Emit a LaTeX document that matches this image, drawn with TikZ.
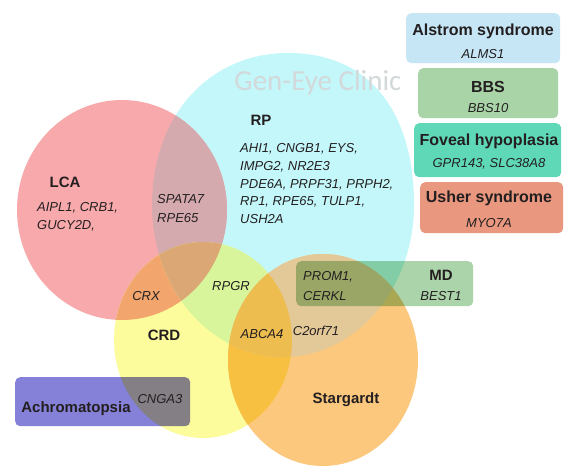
\documentclass[tikz,border=0pt]{standalone}
\usepackage{fontspec}
\setmainfont{Liberation Sans}
\newfontfamily\wmfont{Carlito}

% set colours
\definecolor{pinkC}{HTML}{F8A9AB}
\definecolor{cyanC}{HTML}{C3F7FA}
\definecolor{yellowC}{HTML}{FCFC9C}
\definecolor{orangeC}{HTML}{FCC87E}
% overlap colours
\definecolor{pcC}{HTML}{D5AAAF}
\definecolor{pyC}{HTML}{F2A56C}
\definecolor{pcyC}{HTML}{DAA775}
\definecolor{cyC}{HTML}{D8F59C}
\definecolor{oyC}{HTML}{F7C041}
\definecolor{ocC}{HTML}{E3C898}
\definecolor{ocyC}{HTML}{EDBD50}
% boxes
\definecolor{alsC}{HTML}{C6E6F6}
\definecolor{bbsC}{HTML}{A9D4A8}
\definecolor{fovC}{HTML}{5FD8B8}
\definecolor{ushC}{HTML}{E9977F}
\definecolor{mdC}{HTML}{ACD4AA}
\definecolor{achC}{HTML}{8581D8}
\definecolor{txt}{HTML}{231F20}
\definecolor{wmC}{HTML}{D3D8DA}

% outlines of the four disease sets
\def\LCA{(122,210) ellipse (105pt and 110pt)}
\def\RPset{(152,205) .. controls (152,289) and (210.6,357) .. (283,357)
  .. controls (355.4,357) and (414,289) .. (414,205)
  .. controls (414,115) and (372,53) .. (288,53)
  .. controls (210,53) and (152,115) .. (152,205) -- cycle}
\def\CRD{(203,340) ellipse (89pt and 98pt)}
\def\STG{(323,360) ellipse (95pt and 106pt)}

\begin{document}
\begin{tikzpicture}[x=1pt,y=-1pt,
  lbl/.style={font=\bfseries\fontsize{15}{17}\selectfont, text=txt, inner sep=0pt},
  ttl/.style={font=\bfseries\fontsize{16}{18}\selectfont, text=txt, inner sep=0pt, anchor=base},
  gene/.style={font=\itshape\fontsize{13}{16}\selectfont, text=txt, inner sep=0pt},
  rbox/.style={rounded corners=5pt, inner sep=0pt, anchor=north west}]
\useasboundingbox (0,0) rectangle (566,466);
\fill[white] (0,0) rectangle (566,466);

% single sets
\fill[cyanC] \RPset;
\fill[pinkC] \LCA;
\fill[yellowC] \CRD;
\fill[orangeC] \STG;

% pairwise overlaps
\begin{scope}\clip \LCA; \fill[pcC] \RPset; \end{scope}
\begin{scope}\clip \LCA; \fill[pyC] \CRD; \end{scope}
\begin{scope}\clip \RPset; \fill[cyC] \CRD; \end{scope}
\begin{scope}\clip \STG; \fill[oyC] \CRD; \end{scope}
\begin{scope}\clip \STG; \fill[ocC] \RPset; \end{scope}

% triple overlaps
\begin{scope}\clip \LCA; \clip \RPset; \fill[pcyC] \CRD; \end{scope}
\begin{scope}\clip \STG; \clip \RPset; \fill[ocyC] \CRD; \end{scope}

% watermark
\node[font=\wmfont\fontsize{29}{30}\selectfont, text=wmC, inner sep=0pt, anchor=base] (wm) at (318,90) {Gen-Eye Clinic};

% side boxes
\node[rbox, fill=alsC, minimum width=154pt, minimum height=50pt] (alsbox) at (406,13) {};
\node[rbox, fill=bbsC, minimum width=140pt, minimum height=50pt] (bbsbox) at (418,68) {};
\node[rbox, fill=fovC, minimum width=147pt, minimum height=54pt] (fovbox) at (414,123) {};
\node[rbox, fill=ushC, minimum width=143pt, minimum height=51pt] (ushbox) at (420,182) {};

% translucent boxes laid over the sets
\begin{scope}[blend mode=multiply]
\node[rbox, fill=mdC, minimum width=177pt, minimum height=45pt] (mdbox) at (296,261) {};
\node[rbox, fill=achC, minimum width=175pt, minimum height=49pt] (achbox) at (15,377) {};
\end{scope}

% box texts
\node[ttl] (alst) at (483,35) {Alstrom syndrome};
\node[gene, anchor=base] (alsg) at (483,58) {ALMS1};
\node[ttl] (bbst) at (488,92) {BBS};
\node[gene, anchor=base] (bbsg) at (488,112) {BBS10};
\node[ttl] (fovt) at (489,145) {Foveal hypoplasia};
\node[gene, anchor=base] (fovg) at (489,167) {GPR143, SLC38A8};
\node[ttl] (usht) at (489,202) {Usher syndrome};
\node[gene, anchor=base] (ushg) at (489,227) {MYO7A};

% set labels
\node[lbl, anchor=base] (lcal) at (65,187) {LCA};
\node[lbl, anchor=base] (rpl) at (261,125) {RP};
\node[lbl, anchor=base] (crdl) at (164,340) {CRD};
\node[lbl, anchor=base] (stgl) at (346,403) {Stargardt};
\node[lbl, anchor=base] (mdl) at (441,280) {MD};
\node[lbl, anchor=base] (achl) at (76,412) {Achromatopsia};

% genes
\node[gene, anchor=base west] (rp1) at (240,152) {AHI1, CNGB1, EYS,};
\node[gene, anchor=base west] (rp2) at (240,170) {IMPG2, NR2E3};
\node[gene, anchor=base west] (rp3) at (240,188) {PDE6A, PRPF31, PRPH2,};
\node[gene, anchor=base west] (rp4) at (240,205) {RP1, RPE65, TULP1,};
\node[gene, anchor=base west] (rp5) at (240,223) {USH2A};
\node[gene, anchor=base west] (lca1) at (37,211) {AIPL1, CRB1,};
\node[gene, anchor=base west] (lca2) at (37,229) {GUCY2D,};
\node[gene, anchor=base west] (lrp1) at (157,203) {SPATA7};
\node[gene, anchor=base west] (lrp2) at (157,222) {RPE65};
\node[gene, anchor=base] (crx) at (146,300) {CRX};
\node[gene, anchor=base] (rpgr) at (231,290) {RPGR};
\node[gene, anchor=base] (abca) at (262,338) {ABCA4};
\node[gene, anchor=base] (c2orf) at (316,335) {C2orf71};
\node[gene, anchor=base west] (md1) at (303,280) {PROM1,};
\node[gene, anchor=base west] (md2) at (303,300) {CERKL};
\node[gene, anchor=base] (best) at (441,300) {BEST1};
\node[gene, anchor=base] (cnga) at (160,403) {CNGA3};
\end{tikzpicture}
\end{document}
